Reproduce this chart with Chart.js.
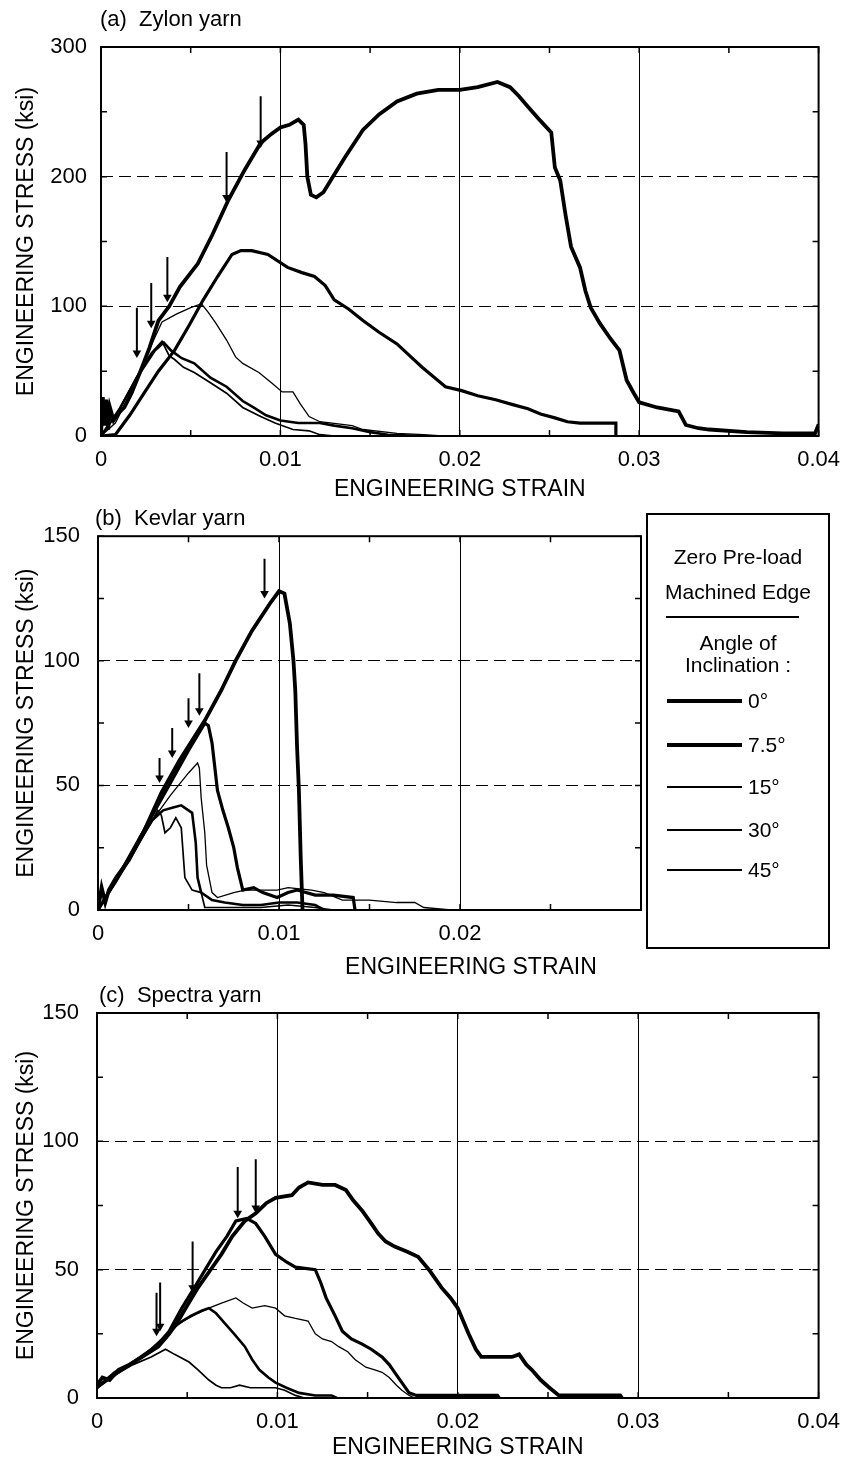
<!DOCTYPE html>
<html>
<head>
<meta charset="utf-8">
<script src="https://cdn.jsdelivr.net/npm/chart.js@4/dist/chart.umd.min.js"></script>
<style>
  body { margin: 0; background: #fff; width: 851px; height: 1461px; position: relative; overflow: hidden;
         font-family: "Liberation Sans", Arial, sans-serif; color: #000; }
  canvas { position: absolute; left: 0; }
  .txt { position: absolute; white-space: pre; line-height: 26px; }
  #legend { position: absolute; left: 646px; top: 513px; width: 184px; height: 436px; border: 2px solid #000;
            box-sizing: border-box; font-size: 21px; }
  #legend .c { position: absolute; left: 0; width: 100%; text-align: center; line-height: 24px; }
  #legend .ln { position: absolute; left: 19px; width: 75px; background: #000; }
  #legend .lb { position: absolute; left: 100px; line-height: 24px; }
</style>
</head>
<body>
<canvas id="zylon" width="851" height="505" style="top:0"></canvas>
<canvas id="kevlar" width="851" height="470" style="top:505px"></canvas>
<canvas id="spectra" width="851" height="481" style="top:980px"></canvas>

<div class="txt" style="left:100px;top:6px;font-size:22px">(a)  Zylon yarn</div>
<div class="txt" style="left:95px;top:505px;font-size:22px">(b)  Kevlar yarn</div>
<div class="txt" style="left:99px;top:982px;font-size:22px">(c)  Spectra yarn</div>
<div class="txt" style="left:471px;top:953px;font-size:23px;transform:translateX(-50%)">ENGINEERING STRAIN</div>
<div id="legend"></div>

<script>
// angle of inclination for the five specimens in each panel
const angleLabels = ["0°", "7.5°", "15°", "30°", "45°"];
const lineWidths = [3.8, 3.2, 1.3, 2.6, 1.7];

// (a) Zylon yarn: [strain, stress ksi]
const zylon0 = [[0,0],[0.0001,30],[0.0002,8],[0.0003,28],[0.0004,5],[0.0005,22],[0.0007,12],[0.001,18],[0.0013,22],
  [0.0017,33],[0.0022,50],[0.0027,68],[0.0032,89],[0.0038,100],[0.0044,115],[0.0054,133],[0.0062,155],[0.0071,182],
  [0.008,205],[0.0089,226],[0.0095,233],[0.01,238],[0.0105,240],[0.011,244],[0.0113,240],[0.0114,225],[0.0115,200],
  [0.0117,186],[0.012,184],[0.0124,188],[0.0128,197],[0.0136,215],[0.0146,236],[0.0155,248],[0.0165,258],[0.0176,264],
  [0.0188,267],[0.02,267],[0.021,269],[0.0221,273],[0.0228,269],[0.0233,262],[0.0238,254],[0.0245,243],[0.0251,234],
  [0.0253,207],[0.0256,197],[0.0259,170],[0.0262,146],[0.0267,130],[0.027,112],[0.0273,99],[0.0278,87],[0.0284,75],
  [0.0289,66],[0.0293,43],[0.0297,33],[0.03,26],[0.031,22],[0.0322,19],[0.0326,8.5],[0.0333,6],[0.0339,5],[0.036,3],
  [0.038,2],[0.0398,2],[0.04,9]];
const zylon7 = [[0,0],[0.0008,1],[0.0016,16],[0.0024,33],[0.0032,50],[0.0041,66],[0.0049,85],[0.0057,105],[0.0065,123],
  [0.0073,140],[0.0078,143],[0.0084,143],[0.0093,140],[0.0104,130],[0.0112,126],[0.0119,123],[0.0125,116],[0.013,105],
  [0.0138,98],[0.0146,89],[0.0155,80],[0.0165,71],[0.0172,62],[0.0179,53],[0.0186,45],[0.0192,38],[0.0201,35],
  [0.021,31],[0.022,28],[0.023,24],[0.0238,21],[0.0245,17],[0.0253,14],[0.026,11],[0.0267,10],[0.0287,10],[0.0287,0]];
const zylon15 = [[0,0],[0.0008,10],[0.0016,32],[0.0024,58],[0.0034,88],[0.0042,94],[0.005,99],[0.0056,102],[0.006,95],
  [0.0064,87],[0.007,74],[0.0075,61],[0.0079,56],[0.0088,49],[0.0095,41],[0.0101,34],[0.0107,34],[0.0111,25],
  [0.0116,15],[0.0122,11],[0.014,8],[0.0146,5],[0.0165,2],[0.018,1],[0.019,0]];
const zylon30 = [[0,0],[0.001,20],[0.002,45],[0.003,66],[0.0035,72],[0.0039,66],[0.0045,60],[0.0052,56],[0.0061,45],
  [0.007,38],[0.0079,27],[0.0085,22],[0.0092,16],[0.01,12],[0.011,10],[0.0122,10],[0.013,8],[0.014,6],[0.015,3],
  [0.016,1],[0.018,0]];
const zylon45 = [[0,0],[0.001,20],[0.002,46],[0.0028,64],[0.0034,73],[0.0038,62],[0.0041,59],[0.0046,53],[0.0052,49],
  [0.0061,41],[0.007,33],[0.0079,22],[0.0089,15],[0.0097,10],[0.0107,5],[0.0116,4],[0.0122,1],[0.013,0]];
// arrows: [strain, stress at top, stress at tip]
const zylonArrows = [[0.002,99,64],[0.0028,118,87],[0.0037,138,107],[0.007,219,184],[0.0089,262,226]];

// (b) Kevlar yarn
const kevlar0 = [[0,0],[0.0002,9],[0.0004,3],[0.0006,8],[0.001,13],[0.0017,20],[0.0025,31],[0.0035,47],[0.0045,60],
  [0.0059,76],[0.0068,88],[0.0076,100],[0.0085,112],[0.0095,123],[0.01,128],[0.0103,127],[0.0106,115],[0.0108,100],
  [0.0109,88],[0.011,65],[0.0111,48],[0.0112,21],[0.0113,0]];
const kevlar7 = [[0,0],[0.001,12],[0.002,25],[0.003,38],[0.004,51],[0.005,64],[0.0059,75],[0.0061,74],[0.0063,67],
  [0.0066,48],[0.0069,40],[0.0072,33],[0.0075,25],[0.0077,17],[0.008,8],[0.0086,9],[0.0091,7],[0.0099,5],[0.0105,7],
  [0.011,8],[0.012,6],[0.013,6],[0.0141,5],[0.0142,0]];
const kevlar15 = [[0,0],[0.001,11],[0.002,23],[0.003,36],[0.004,46],[0.005,55],[0.0055,59],[0.0056,57],[0.0057,45],
  [0.0059,31],[0.006,18],[0.0063,7],[0.0066,5],[0.0075,7],[0.0081,8],[0.0099,8],[0.0105,9],[0.0118,8],[0.0125,7],
  [0.0135,4],[0.015,4],[0.0165,3],[0.0175,3],[0.018,1],[0.0195,0]];
const kevlar30 = [[0,0],[0.001,12],[0.002,24],[0.003,36],[0.0036,40],[0.0041,41],[0.0046,42],[0.005,40],[0.0052,39],
  [0.0054,27],[0.0055,13],[0.0057,7],[0.0063,4],[0.007,3],[0.008,2],[0.009,2],[0.01,3],[0.011,3],[0.012,2],[0.0125,0]];
const kevlar45 = [[0,0],[0.001,12],[0.002,25],[0.003,36],[0.0033,40],[0.0035,38],[0.0037,31],[0.004,33],[0.0043,37],
  [0.0046,33],[0.0048,13],[0.0052,8],[0.0057,7],[0.0059,1],[0.007,1],[0.009,1],[0.0105,2],[0.012,1],[0.013,0]];
const kevlarArrows = [[0.0034,61,53],[0.0041,73,63],[0.005,85,75],[0.0056,95,80],[0.0092,141,127]];

// (c) Spectra yarn
const spectra0 = [[0,5],[0.0003,8],[0.0007,7],[0.0012,11],[0.0018,13],[0.0025,16],[0.0034,20],[0.004,25],[0.0045,30],
  [0.005,36],[0.0056,43],[0.0062,49],[0.0069,56],[0.0075,63],[0.0082,69],[0.0088,72],[0.0094,76],[0.0099,78],
  [0.0108,79],[0.0112,82],[0.0117,84],[0.0125,83],[0.0132,83],[0.0138,81],[0.0142,77],[0.0147,73],[0.0152,68],
  [0.0156,64],[0.016,61],[0.0165,59],[0.0172,57],[0.0178,55],[0.0184,50],[0.0188,46],[0.0191,43],[0.0196,39],
  [0.02,35],[0.0203,30],[0.0206,25],[0.021,19],[0.0213,16],[0.022,16],[0.023,16],[0.0234,17],[0.0238,13],
  [0.0241,11],[0.0246,7],[0.025,4.5],[0.0256,1],[0.027,1],[0.029,1],[0.0291,0]];
const spectra7 = [[0,4],[0.0005,7],[0.001,10],[0.0018,13],[0.0025,16],[0.0034,21],[0.004,26],[0.0047,35],[0.0054,43],
  [0.006,50],[0.0066,57],[0.0072,63],[0.0077,69],[0.0083,70],[0.0088,68],[0.0093,63],[0.0099,56],[0.0105,53],
  [0.011,51],[0.0121,50],[0.0124,45],[0.0127,39],[0.0132,32],[0.0136,26],[0.0141,23],[0.0147,21],[0.0152,19],
  [0.0158,16],[0.0162,13],[0.0165,10],[0.0169,6],[0.0173,2],[0.0177,1],[0.02,1],[0.0222,1],[0.0223,0]];
const spectra15 = [[0,4],[0.001,9],[0.002,14],[0.003,19],[0.004,26],[0.0048,30],[0.0056,33],[0.0062,35],[0.0069,37],
  [0.0077,39],[0.0081,37],[0.0086,35],[0.0093,36],[0.0099,35],[0.0104,32],[0.011,31],[0.0117,30],[0.0121,25],
  [0.0125,23],[0.013,22],[0.0134,20],[0.0139,18],[0.0143,15],[0.0149,12],[0.0154,11],[0.0158,10],[0.0162,8],
  [0.0166,5],[0.0169,3],[0.0173,1],[0.0176,0]];
const spectra30 = [[0,4],[0.001,9],[0.002,14],[0.003,19],[0.0038,24],[0.0045,29],[0.0052,32],[0.0058,34],[0.0062,35],
  [0.0066,33],[0.0071,29],[0.0076,25],[0.0082,20],[0.0086,15],[0.009,11],[0.0095,8],[0.0099,6],[0.0105,4],
  [0.0112,2],[0.0121,1],[0.013,1],[0.0133,0]];
const spectra45 = [[0,4],[0.001,9],[0.002,13],[0.003,16],[0.0038,19],[0.0043,17],[0.0051,14],[0.0056,11],[0.0062,7],
  [0.0066,5],[0.0069,4],[0.0074,4],[0.0079,5],[0.0085,4],[0.0092,4],[0.0099,4],[0.0104,3],[0.011,1],[0.0115,0]];
const spectraArrows = [[0.0033,41,26],[0.0035,45,28],[0.0053,61,43],[0.0078,90,72],[0.0088,93,74]];

// tick labels
const zylonStrainTicks = [0, 0.01, 0.02, 0.03, 0.04];
const zylonStressTicks = [0, 100, 200, 300];
const kevlarStrainTicks = [0, 0.01, 0.02];
const kevlarStressTicks = [0, 50, 100, 150];
const spectraStrainTicks = [0, 0.01, 0.02, 0.03, 0.04];
const spectraStressTicks = [0, 50, 100, 150];

const FONT = "'Liberation Sans', Arial, sans-serif";

function has(list, v) {
  return list.some(t => Math.abs(t - v) < 1e-9);
}

// frame around the plot and short inward tick marks on all four sides
const framePlugin = {
  id: "frame",
  afterDatasetsDraw(chart) {
    const { ctx, chartArea: a, scales } = chart;
    ctx.save();
    ctx.strokeStyle = "#000";
    ctx.lineWidth = 1.5;
    ctx.beginPath();
    scales.x.ticks.forEach(t => {
      const px = scales.x.getPixelForValue(t.value);
      ctx.moveTo(px, a.bottom); ctx.lineTo(px, a.bottom - 6);
      ctx.moveTo(px, a.top); ctx.lineTo(px, a.top + 6);
    });
    scales.y.ticks.forEach(t => {
      const py = scales.y.getPixelForValue(t.value);
      ctx.moveTo(a.left, py); ctx.lineTo(a.left + 6, py);
      ctx.moveTo(a.right, py); ctx.lineTo(a.right - 6, py);
    });
    ctx.stroke();
    ctx.lineWidth = 2;
    ctx.strokeRect(a.left, a.top, a.width, a.height);
    ctx.restore();
  }
};

function makePanel(id, p) {
  const datasets = p.series.map((s, i) => ({
    data: s.map(d => ({ x: d[0], y: d[1] })),
    borderColor: "#000",
    borderWidth: lineWidths[i],
    showLine: true,
    pointRadius: 0,
    fill: false
  }));
  p.arrows.forEach(a => {
    datasets.push({
      data: [{ x: a[0], y: a[1] }, { x: a[0], y: a[2] }],
      borderColor: "#000",
      borderWidth: 2,
      showLine: true,
      pointStyle: "triangle",
      rotation: 180,
      pointRadius: [0, 5],
      pointBackgroundColor: "#000",
      pointBorderColor: "#000",
      pointBorderWidth: 0
    });
  });

  new Chart(document.getElementById(id), {
    type: "scatter",
    data: { datasets },
    plugins: [framePlugin],
    options: {
      responsive: false,
      animation: false,
      devicePixelRatio: 1,
      layout: { padding: { top: p.padTop, right: p.padRight, left: 0, bottom: 0 } },
      plugins: { legend: { display: false }, tooltip: { enabled: false } },
      scales: {
        x: {
          type: "linear",
          min: 0,
          max: p.xMax,
          afterFit: s => { s.height = p.xAxisHeight; },
          ticks: {
            stepSize: 0.005,
            autoSkip: false,
            maxRotation: 0,
            padding: 11,
            color: "#000",
            font: { family: FONT, size: 22 },
            callback: v => has(p.xLabels, v) ? (v === 0 ? "0" : v.toFixed(2)) : ""
          },
          grid: {
            drawTicks: false,
            lineWidth: 1,
            color: c => (c.tick && has(p.xLabels, c.tick.value) && c.tick.value > 0 && c.tick.value < p.xMax)
              ? "#000" : "rgba(0,0,0,0)"
          },
          border: { display: false },
          title: {
            display: p.xTitle,
            text: "ENGINEERING STRAIN",
            color: "#000",
            font: { family: FONT, size: 23 },
            padding: { top: 0, bottom: p.xTitlePad }
          }
        },
        y: {
          min: 0,
          max: p.yMax,
          afterFit: s => { s.width = p.yAxisWidth; },
          ticks: {
            stepSize: p.yStep,
            autoSkip: false,
            padding: p.yTickPad,
            color: "#000",
            font: { family: FONT, size: 22 },
            callback: v => has(p.yLabels, v) ? String(v) : ""
          },
          grid: {
            drawTicks: false,
            lineWidth: 1,
            color: c => (c.tick && has(p.yLabels, c.tick.value) && c.tick.value > 0 && c.tick.value < p.yMax)
              ? "#000" : "rgba(0,0,0,0)"
          },
          border: { display: false, dash: [12, 6] },
          title: {
            display: true,
            text: "ENGINEERING STRESS (ksi)",
            color: "#000",
            font: { family: FONT, size: 23 },
            padding: { top: 13, bottom: 0 }
          }
        }
      }
    }
  });
}

makePanel("zylon", {
  series: [zylon0, zylon7, zylon15, zylon30, zylon45],
  arrows: zylonArrows,
  xMax: 0.04, yMax: 300, yStep: 50,
  xLabels: zylonStrainTicks, yLabels: zylonStressTicks,
  padTop: 47, padRight: 23, yAxisWidth: 101, xAxisHeight: 69,
  xTitle: true, xTitlePad: 2, yTickPad: 14
});

makePanel("kevlar", {
  series: [kevlar0, kevlar7, kevlar15, kevlar30, kevlar45],
  arrows: kevlarArrows,
  xMax: 0.03, yMax: 150, yStep: 25,
  xLabels: kevlarStrainTicks, yLabels: kevlarStressTicks,
  padTop: 30, padRight: 210, yAxisWidth: 98, xAxisHeight: 65,
  xTitle: false, xTitlePad: 0, yTickPad: 18
});

makePanel("spectra", {
  series: [spectra0, spectra7, spectra15, spectra30, spectra45],
  arrows: spectraArrows,
  xMax: 0.04, yMax: 150, yStep: 25,
  xLabels: spectraStrainTicks, yLabels: spectraStressTicks,
  padTop: 33, padRight: 29, yAxisWidth: 97, xAxisHeight: 63,
  xTitle: true, xTitlePad: 0, yTickPad: 18
});

// legend box (kevlar panel), built from the same labels and widths
const legend = document.getElementById("legend");
const head = [["Zero Pre-load", 30], ["Machined Edge", 65], ["Angle of", 116], ["Inclination :", 138]];
head.forEach(h => {
  const d = document.createElement("div");
  d.className = "c";
  d.style.top = h[1] + "px";
  d.textContent = h[0];
  legend.appendChild(d);
});
const sep = document.createElement("div");
sep.className = "ln";
sep.style.cssText = "left:18px;width:133px;top:101px;height:1.5px";
legend.appendChild(sep);
const rowY = [186, 230, 272, 315, 355];
angleLabels.forEach((lab, i) => {
  const ln = document.createElement("div");
  ln.className = "ln";
  ln.style.top = (rowY[i] - lineWidths[i] / 2) + "px";
  ln.style.height = lineWidths[i] + "px";
  legend.appendChild(ln);
  const t = document.createElement("div");
  t.className = "lb";
  t.style.top = (rowY[i] - 12) + "px";
  t.textContent = lab;
  legend.appendChild(t);
});
</script>
</body>
</html>
